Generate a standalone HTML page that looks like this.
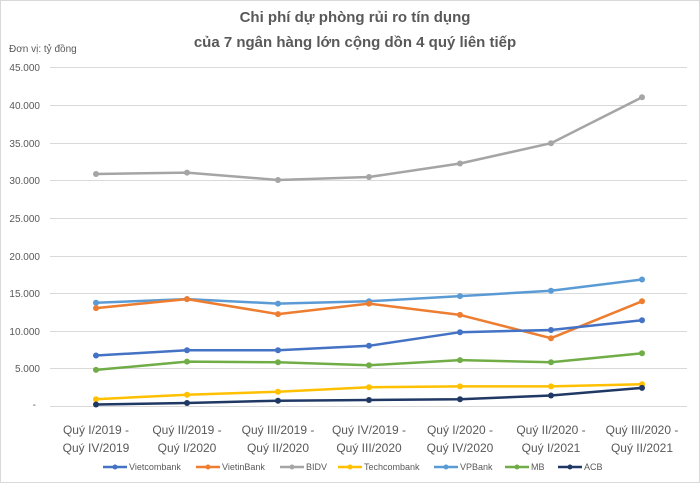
<!DOCTYPE html><html><head><meta charset="utf-8"><style>body{margin:0;background:#fff}svg{display:block;font-family:"Liberation Sans",sans-serif}</style></head><body>
<svg width="700" height="483" viewBox="0 0 700 483">
<rect x="0.5" y="0.5" width="699" height="482" fill="#fff" stroke="#d9d9d9"/>
<g fill="#595959" font-weight="bold" font-size="15" text-anchor="middle"><text x="355" y="22">Chi phí dự phòng rủi ro tín dụng</text><text x="355" y="47">của 7 ngân hàng lớn cộng dồn 4 quý liên tiếp</text></g>
<text x="9" y="52" font-size="10" fill="#595959">Đơn vị: tỷ đồng</text>
<g stroke="#d9d9d9" stroke-width="1">
<line x1="50" x2="687" y1="67.5" y2="67.5"/><line x1="50" x2="687" y1="105.5" y2="105.5"/><line x1="50" x2="687" y1="143.5" y2="143.5"/><line x1="50" x2="687" y1="180.5" y2="180.5"/><line x1="50" x2="687" y1="218.5" y2="218.5"/><line x1="50" x2="687" y1="256.5" y2="256.5"/><line x1="50" x2="687" y1="293.5" y2="293.5"/><line x1="50" x2="687" y1="331.5" y2="331.5"/><line x1="50" x2="687" y1="368.5" y2="368.5"/><line x1="50" x2="687" y1="406.5" y2="406.5"/></g>
<g font-size="10" fill="#595959" text-anchor="end"><text x="40" y="71">45.000</text><text x="40" y="109">40.000</text><text x="40" y="147">35.000</text><text x="40" y="184">30.000</text><text x="40" y="222">25.000</text><text x="40" y="260">20.000</text><text x="40" y="297">15.000</text><text x="40" y="335">10.000</text><text x="40" y="372">5.000</text><text x="36" y="408">-</text></g>
<g font-size="12" fill="#595959" text-anchor="middle">
<text x="96" y="434">Quý I/2019 -</text><text x="96" y="452">Quý IV/2019</text>
<text x="187" y="434">Quý II/2019 -</text><text x="187" y="452">Quý I/2020</text>
<text x="278" y="434">Quý III/2019 -</text><text x="278" y="452">Quý II/2020</text>
<text x="369" y="434">Quý IV/2019 -</text><text x="369" y="452">Quý III/2020</text>
<text x="460" y="434">Quý I/2020 -</text><text x="460" y="452">Quý IV/2020</text>
<text x="551" y="434">Quý II/2020 -</text><text x="551" y="452">Quý I/2021</text>
<text x="642" y="434">Quý III/2020 -</text><text x="642" y="452">Quý II/2021</text></g>
<g fill="none" stroke-width="2.5" stroke-linejoin="round">
<polyline stroke="#a5a5a5" points="96,174 187,172.6 278,180 369,177 460,163.5 551,143.2 642,97.3"/>
<polyline stroke="#5b9bd5" points="96,302.8 187,299.1 278,303.6 369,301.3 460,296.1 551,290.8 642,279.5"/>
<polyline stroke="#ed7d31" points="96,308.1 187,299.1 278,314.1 369,303.6 460,314.9 551,338.2 642,301.3"/>
<polyline stroke="#4472c4" points="96,355.5 187,350.3 278,350.3 369,345.8 460,332.2 551,330 642,320.2"/>
<polyline stroke="#70ad47" points="96,369.9 187,361.6 278,362.3 369,365.3 460,360.1 551,362.3 642,353.3"/>
<polyline stroke="#ffc000" points="96,399.2 187,394.7 278,391.7 369,387.2 460,386.4 551,386.4 642,384.2"/>
<polyline stroke="#203864" points="96,404.5 187,403 278,400.7 369,400 460,399.2 551,395.5 642,387.9"/></g>
<g stroke="none">
<g fill="#a5a5a5"><circle cx="96" cy="174" r="3"/><circle cx="187" cy="172.6" r="3"/><circle cx="278" cy="180" r="3"/><circle cx="369" cy="177" r="3"/><circle cx="460" cy="163.5" r="3"/><circle cx="551" cy="143.2" r="3"/><circle cx="642" cy="97.3" r="3"/></g>
<g fill="#5b9bd5"><circle cx="96" cy="302.8" r="3"/><circle cx="187" cy="299.1" r="3"/><circle cx="278" cy="303.6" r="3"/><circle cx="369" cy="301.3" r="3"/><circle cx="460" cy="296.1" r="3"/><circle cx="551" cy="290.8" r="3"/><circle cx="642" cy="279.5" r="3"/></g>
<g fill="#ed7d31"><circle cx="96" cy="308.1" r="3"/><circle cx="187" cy="299.1" r="3"/><circle cx="278" cy="314.1" r="3"/><circle cx="369" cy="303.6" r="3"/><circle cx="460" cy="314.9" r="3"/><circle cx="551" cy="338.2" r="3"/><circle cx="642" cy="301.3" r="3"/></g>
<g fill="#4472c4"><circle cx="96" cy="355.5" r="3"/><circle cx="187" cy="350.3" r="3"/><circle cx="278" cy="350.3" r="3"/><circle cx="369" cy="345.8" r="3"/><circle cx="460" cy="332.2" r="3"/><circle cx="551" cy="330" r="3"/><circle cx="642" cy="320.2" r="3"/></g>
<g fill="#70ad47"><circle cx="96" cy="369.9" r="3"/><circle cx="187" cy="361.6" r="3"/><circle cx="278" cy="362.3" r="3"/><circle cx="369" cy="365.3" r="3"/><circle cx="460" cy="360.1" r="3"/><circle cx="551" cy="362.3" r="3"/><circle cx="642" cy="353.3" r="3"/></g>
<g fill="#ffc000"><circle cx="96" cy="399.2" r="3"/><circle cx="187" cy="394.7" r="3"/><circle cx="278" cy="391.7" r="3"/><circle cx="369" cy="387.2" r="3"/><circle cx="460" cy="386.4" r="3"/><circle cx="551" cy="386.4" r="3"/><circle cx="642" cy="384.2" r="3"/></g>
<g fill="#203864"><circle cx="96" cy="404.5" r="3"/><circle cx="187" cy="403" r="3"/><circle cx="278" cy="400.7" r="3"/><circle cx="369" cy="400" r="3"/><circle cx="460" cy="399.2" r="3"/><circle cx="551" cy="395.5" r="3"/><circle cx="642" cy="387.9" r="3"/></g></g>
<g font-size="9" fill="#595959">
<line x1="103" x2="127" y1="467" y2="467" stroke="#4472c4" stroke-width="2.5"/><circle cx="115" cy="467" r="2.5" fill="#4472c4"/><text x="129" y="470">Vietcombank</text>
<line x1="196" x2="220" y1="467" y2="467" stroke="#ed7d31" stroke-width="2.5"/><circle cx="208" cy="467" r="2.5" fill="#ed7d31"/><text x="222" y="470">VietinBank</text>
<line x1="280" x2="304" y1="467" y2="467" stroke="#a5a5a5" stroke-width="2.5"/><circle cx="292" cy="467" r="2.5" fill="#a5a5a5"/><text x="306" y="470">BIDV</text>
<line x1="338" x2="362" y1="467" y2="467" stroke="#ffc000" stroke-width="2.5"/><circle cx="350" cy="467" r="2.5" fill="#ffc000"/><text x="364" y="470">Techcombank</text>
<line x1="434" x2="458" y1="467" y2="467" stroke="#5b9bd5" stroke-width="2.5"/><circle cx="446" cy="467" r="2.5" fill="#5b9bd5"/><text x="460" y="470">VPBank</text>
<line x1="505" x2="529" y1="467" y2="467" stroke="#70ad47" stroke-width="2.5"/><circle cx="517" cy="467" r="2.5" fill="#70ad47"/><text x="531" y="470">MB</text>
<line x1="558" x2="582" y1="467" y2="467" stroke="#203864" stroke-width="2.5"/><circle cx="570" cy="467" r="2.5" fill="#203864"/><text x="584" y="470">ACB</text></g>
</svg></body></html>
